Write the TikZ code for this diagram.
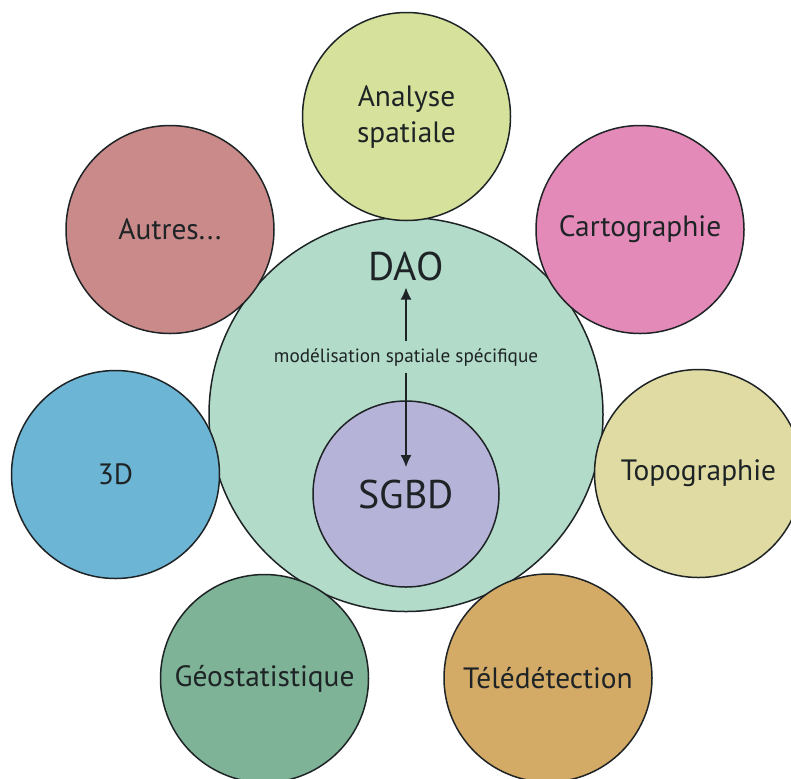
\documentclass[tikz,border=0pt]{standalone}
\usepackage{fontspec}
\setmainfont{PT Sans}
\usetikzlibrary{arrows.meta}

\definecolor{cdao}{HTML}{B3DBC9}
\definecolor{csgbd}{HTML}{B6B3D8}
\definecolor{cana}{HTML}{D6E29B}
\definecolor{ccarto}{HTML}{E48AB8}
\definecolor{cautres}{HTML}{C98A89}
\definecolor{ctd}{HTML}{6DB5D4}
\definecolor{ctopo}{HTML}{E0DBA2}
\definecolor{cgeo}{HTML}{7FB397}
\definecolor{ctele}{HTML}{D4AA67}
\definecolor{cline}{HTML}{1E2426}

\begin{document}
\begin{tikzpicture}[x=0.5pt, y=-0.5pt,
    c/.style={circle, draw=cline, line width=0.75pt, minimum size=104pt, inner sep=0pt, align=center, font=\fontsize{14.7}{18}\selectfont, text=cline},
    big/.style={font=\fontsize{20}{23}\selectfont, text=cline},
    fl/.style={-{Latex[length=6pt, width=5.5pt]}, line width=0.65pt, draw=cline}]
  \useasboundingbox[fill=white] (0,0) rectangle (791,778);

  \node[c, fill=cdao, minimum size=197pt] (dao) at (406,414.5) {};
  \node[c, fill=csgbd, minimum size=93pt, big] (sgbd) at (406,494) {SGBD};

  \node[c, fill=cana] (ana) at (406.5,116.5) {Analyse\\spatiale};
  \node[c, fill=ccarto] (carto) at (640,229.5) {Cartographie};
  \node[c, fill=cautres] (autres) at (170,229.5) {Autres...};
  \node[c, fill=ctd] (td) at (115.5,474.5) {3D};
  \node[c, fill=ctopo] (topo) at (698.5,473.5) {Topographie};
  \node[c, fill=cgeo] (geo) at (264.5,678.5) {Géostatistique};
  \node[c, fill=ctele] (tele) at (548,678) {Télédétection};

  \node[big] (daotxt) at (406,266) {DAO};
  \node[font=\fontsize{9.6}{11}\selectfont, text=cline] (spec) at (406,357) {modélisation spatiale spécifique};
  \coordinate (sgbdtip) at (406,467);

  \draw[fl] (spec) -- (daotxt);
  \draw[fl] (spec) -- (sgbdtip);
\end{tikzpicture}
\end{document}
